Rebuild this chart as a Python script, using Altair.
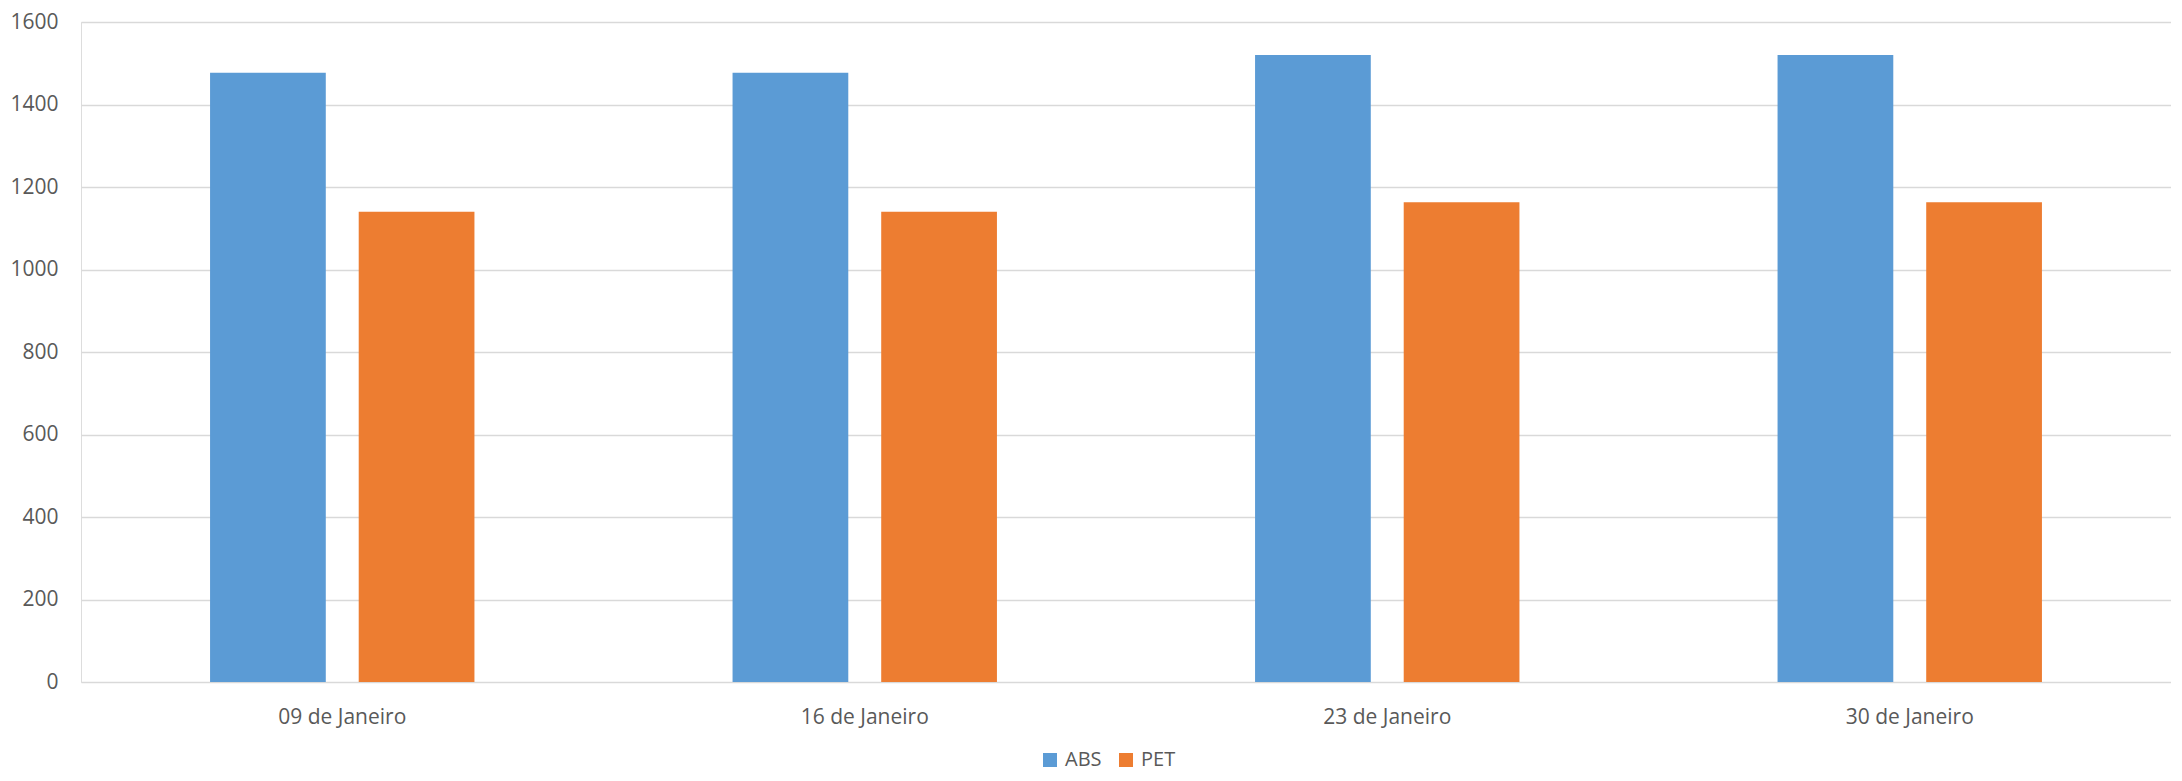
import altair as alt
import pandas as pd

categories = ["09 de Janeiro", "16 de Janeiro", "23 de Janeiro", "30 de Janeiro"]
series = ["ABS", "PET"]
abs_values = [1477, 1477, 1520, 1520]
pet_values = [1140, 1140, 1163, 1163]
colors = ["#5B9BD5", "#ED7D31"]

rows = []
for c, a, p in zip(categories, abs_values, pet_values):
    rows.append({"data": c, "material": "ABS", "valor": a})
    rows.append({"data": c, "material": "PET", "valor": p})
df = pd.DataFrame(rows)

FONT = "Open Sans"
TXT = "#595959"

chart = alt.Chart(df).mark_bar().encode(
    x=alt.X("data:N", sort=categories,
            scale=alt.Scale(paddingInner=0.494, paddingOuter=0.247),
            axis=alt.Axis(title=None, labelAngle=0, domain=False, ticks=False,
                          labelPadding=24, labelFontSize=21, labelColor=TXT,
                          labelFont=FONT)),
    xOffset=alt.XOffset("material:N", sort=series,
                        scale=alt.Scale(paddingInner=0.2215, paddingOuter=0)),
    y=alt.Y("valor:Q", scale=alt.Scale(domain=[0, 1600], nice=False),
            axis=alt.Axis(title=None, values=[0, 200, 400, 600, 800, 1000, 1200, 1400, 1600],
                          format="d",
                          domain=False, ticks=False, labelPadding=23,
                          labelFontSize=21, labelColor=TXT, labelFont=FONT,
                          grid=True, gridColor="#D9D9D9", gridWidth=1.4)),
    color=alt.Color("material:N", sort=series,
                    scale=alt.Scale(domain=series, range=colors),
                    legend=alt.Legend(title=None, orient="none", direction="horizontal",
                                      legendX=959, legendY=728,
                                      symbolType="square", symbolSize=196,
                                      symbolStrokeWidth=0,
                                      labelFontSize=20, labelColor=TXT, labelFont=FONT,
                                      labelOffset=5, columnPadding=14)),
).properties(
    width=2090, height=660,
    autosize=alt.AutoSizeParams(type="none"),
    padding={"left": 73, "top": 14, "right": 0, "bottom": 91},
).configure_view(stroke=None).configure(background="white")

chart.save("out.html", embed_options={"renderer": "svg", "actions": False})
